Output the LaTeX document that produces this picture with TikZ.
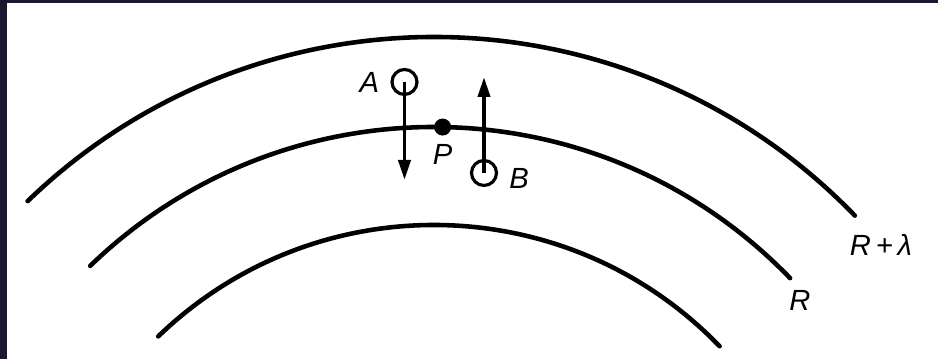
\documentclass[tikz,border=0pt]{standalone}
\usepackage{amsmath,amssymb}
\usepackage{fontspec}
\setsansfont{Liberation Sans}
\usepackage{xcolor}
\usepackage{tikz}
\usetikzlibrary{arrows.meta,positioning,calc}

\definecolor{scanedge}{RGB}{28,22,48}

\begin{document}
\begin{tikzpicture}[
    node distance=0.07cm,
    wave/.style={line width=1.3pt, line cap=round},
    arrow/.style={-{Triangle[length=2mm, width=1.2mm]}, line width=1.1pt},
    source/.style={circle, draw, line width=0.9pt, minimum size=0.25cm, inner sep=0pt},
    point/.style={circle, fill, minimum size=0.17cm, inner sep=0pt},
    tag/.style={font=\fontsize{8.3}{10}\selectfont\sffamily\itshape, inner sep=1pt},
]
\useasboundingbox (-4.34,2.63) rectangle (5.04,6.22);

% === SCAN EDGES ===
\fill[scanedge] (-4.34,2.63) rectangle (-4.27,6.22);
\fill[scanedge] (-4.34,6.19) rectangle (5.04,6.22);

% === WAVE FRONTS ===
\draw[wave] (134:5.85) arc[start angle=134, end angle=44, radius=5.85] coordinate (outerEnd);
\draw[wave] (134:4.95) arc[start angle=134, end angle=44, radius=4.95] coordinate (midEnd);
\draw[wave] (134:3.97) arc[start angle=134, end angle=44, radius=3.97];

\node[tag] (labOuter) at (4.47,3.77) {R\,+\,λ};
\node[tag] (labMid) at (3.66,3.22) {R};

% === SOURCES ===
\node[point] (dotP) at (89:4.95) {};
\node[tag, below=0.04cm of dotP] (labP) {P};

\node[source] (nodeA) at (-0.295,5.40) {};
\coordinate (tipA) at (-0.295,4.42);
\node[tag, left=of nodeA] (labA) {A};

\node[source] (nodeB) at (0.50,4.49) {};
\coordinate (tipB) at (0.50,5.45);
\node[tag, right=of nodeB, yshift=-0.5mm] (labB) {B};

\draw[arrow] (nodeA.center) -- (tipA);
\draw[arrow] (nodeB.center) -- (tipB);

\end{tikzpicture}
\end{document}
